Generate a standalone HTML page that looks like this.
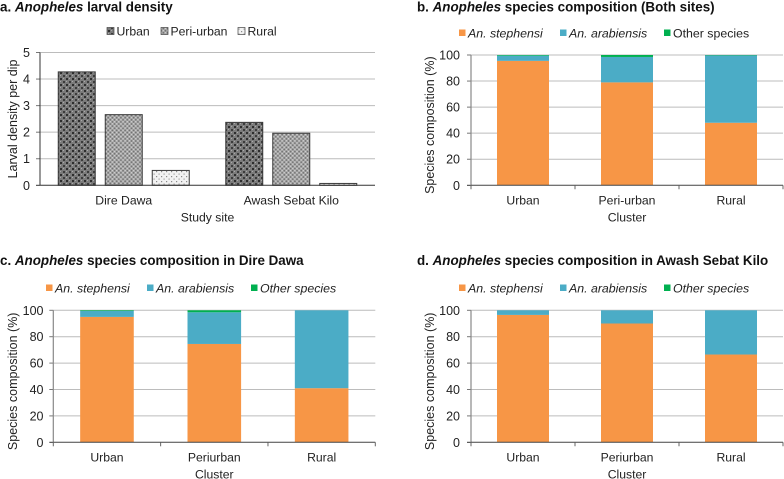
<!DOCTYPE html>
<html>
<head>
<meta charset="utf-8">
<style>
html,body{margin:0;padding:0;background:#fff;width:784px;height:479px;overflow:hidden}
svg{display:block;filter:blur(.3px)}
text{font-family:"Liberation Sans",sans-serif;fill:#222;font-size:12.2px}
.title{font-size:13.4px;font-weight:bold;fill:#111}
</style>
</head>
<body>
<svg id="figure" width="784" height="479" viewBox="0 0 784 479" xmlns="http://www.w3.org/2000/svg">
<defs>
<pattern id="pat-urban" width="6" height="6" patternUnits="userSpaceOnUse">
<rect width="6" height="6" fill="#7b7b7b"/>
<rect x="0" y="0" width="2" height="2" fill="#2e2e2e"/>
<rect x="3" y="3" width="2" height="2" fill="#3c3c3c"/>
<rect x="3" y="0" width="1" height="1" fill="#aaa"/>
<rect x="0" y="3" width="1" height="1" fill="#aaa"/>
</pattern>
<pattern id="pat-peri" width="3" height="3" patternUnits="userSpaceOnUse" patternTransform="rotate(45)">
<rect width="3" height="3" fill="#a6a6a6"/>
<rect x="0" y="0" width="1.4" height="1.4" fill="#6e6e6e"/>
<rect x="1.5" y="1.5" width="1.2" height="1.2" fill="#d6d6d6"/>
</pattern>
<pattern id="pat-rural" width="5" height="5" patternUnits="userSpaceOnUse">
<rect width="5" height="5" fill="#f2f2f2"/>
<rect x="1" y="1" width="1.2" height="1.2" fill="#8a8a8a"/>
<rect x="3.5" y="3.5" width="1.2" height="1.2" fill="#a0a0a0"/>
</pattern>
</defs>
</svg>
<script>
const NS = 'http://www.w3.org/2000/svg';
const svg = document.getElementById('figure');

// Panel a data
const densitySites = ['Dire Dawa', 'Awash Sebat Kilo'];
const densitySeriesNames = ['Urban', 'Peri-urban', 'Rural'];
const densityUrban = [4.27, 2.37];
const densityPeriUrban = [2.66, 1.96];
const densityRural = [0.56, 0.07];
const densityTicks = [0, 1, 2, 3, 4, 5];

// Composition shared
const compositionSpecies = ['An. stephensi', 'An. arabiensis', 'Other species'];
const compositionTicks = [0, 20, 40, 60, 80, 100];
const clustersBoth = ['Urban', 'Peri-urban', 'Rural'];
const clustersSite = ['Urban', 'Periurban', 'Rural'];

// Panel b data
const bothStephensi = [95.5, 79, 48];
const bothArabiensis = [4, 19.5, 51.7];
const bothOther = [0.5, 1.5, 0.3];

// Panel c data
const direStephensi = [95, 74.5, 41];
const direArabiensis = [4.5, 24, 59];
const direOther = [0.5, 1.5, 0];

// Panel d data
const awashStephensi = [96.5, 90, 66.5];
const awashArabiensis = [3.5, 10, 33.5];
const awashOther = [0, 0, 0];

function el(tag, attrs, parent, text) {
  const n = document.createElementNS(NS, tag);
  for (const k in attrs) n.setAttribute(k, attrs[k]);
  if (text !== undefined) n.textContent = text;
  (parent || svg).appendChild(n);
  return n;
}
function slug(s) {
  return String(s).toLowerCase().replace(/[^a-z0-9]+/g, '-');
}
function titleText(prefix, italic, rest, x, y) {
  const t = el('text', {x: x, y: y, class: 'title'});
  el('tspan', {}, t, prefix + ' ');
  el('tspan', {'font-style': 'italic'}, t, italic);
  el('tspan', {}, t, ' ' + rest);
  
  
  return t;
}
function axes(g, cfg, ticks, maxV, yScale) {
  ticks.forEach(v => {
    const y = yScale(v);
    if (v !== 0) {
      const grid = el('line', {x1: cfg.x0, x2: cfg.x1, y1: y, y2: y, stroke: '#bcbcbc', 'stroke-width': 1}, g);
      
      
    }
    const tick = el('line', {x1: cfg.x0 - 4, x2: cfg.x0, y1: y, y2: y, stroke: v === 0 ? '#333' : '#777', 'stroke-width': 1}, g);
    
    
    const lab = el('text', {x: cfg.tickEnd, y: y + 4.5, 'text-anchor': 'end', style: 'font-size:12.5px'}, g, v);
    
    
  });
}
function yTitle(g, text, x, y) {
  const t = el('text', {x: x, y: y, 'text-anchor': 'middle', style: 'font-size:12.5px', transform: 'rotate(-90 ' + x + ' ' + y + ')'}, g, text);
  
  
}
function xTitle(g, text, x, y) {
  const t = el('text', {x: x, y: y, 'text-anchor': 'middle'}, g, text);
  
  
}

/* ---------- Panel a ---------- */
(function () {
  const cfg = {x0: 40, x1: 375, yTop: 52.5, yBase: 185.3, tickEnd: 30};
  const g = el('g', {});
  
  
  titleText('a.', 'Anopheles', 'larval density', 0, 11.5);
  const maxV = densityTicks[densityTicks.length - 1];
  const yScale = v => cfg.yBase - (v / maxV) * (cfg.yBase - cfg.yTop);
  const catW = (cfg.x1 - cfg.x0) / densitySites.length;
  const catX = i => cfg.x0 + catW * (i + 0.5);
  axes(g, cfg, densityTicks, maxV, yScale);
  const series = [densityUrban, densityPeriUrban, densityRural];
  const fills = ['url(#pat-urban)', 'url(#pat-peri)', 'url(#pat-rural)'];
  const barW = 37, step = 47;
  series.forEach((vals, s) => {
    vals.forEach((v, i) => {
      const x = catX(i) + (s - 1) * step - barW / 2;
      const r = el('rect', {x: x, y: yScale(v), width: barW, height: yScale(0) - yScale(v), fill: fills[s], stroke: '#3a3a3a', 'stroke-width': 1}, g);
      
      
    });
  });
  const yAxis = el('line', {x1: cfg.x0, x2: cfg.x0, y1: cfg.yTop, y2: cfg.yBase, stroke: '#333', 'stroke-width': 1}, g);
  
  
  const xAxis = el('line', {x1: cfg.x0, x2: cfg.x1, y1: cfg.yBase, y2: cfg.yBase, stroke: '#333', 'stroke-width': 1}, g);
  
  
  densitySites.forEach((c, i) => {
    const t = el('text', {x: catX(i), y: 204.5, 'text-anchor': 'middle'}, g, c);
    
    
  });
  xTitle(g, 'Study site', 207.5, 221.5);
  yTitle(g, 'Larval density per dip', 17, 119);
  const legendX = [107, 161, 238];
  densitySeriesNames.forEach((n, s) => {
    const lg = el('g', {}, g);
    
    
    el('rect', {x: legendX[s], y: 27.5, width: 7, height: 7, fill: fills[s], stroke: '#444', 'stroke-width': .7}, lg);
    el('text', {x: legendX[s] + 9.5, y: 35.5}, lg, n);
  });
})();

/* ---------- Stacked panels ---------- */
function stacked(cfg, clusters, stephensi, arabiensis, other) {
  const g = el('g', {});
  
  
  titleText(cfg.letter, 'Anopheles', cfg.rest, cfg.titleX, cfg.titleY);
  const maxV = compositionTicks[compositionTicks.length - 1];
  const yScale = v => cfg.yBase - (v / maxV) * (cfg.yBase - cfg.yTop);
  const catW = (cfg.x1 - cfg.x0) / clusters.length;
  const catX = i => cfg.x0 + catW * (i + 0.5);
  axes(g, cfg, compositionTicks, maxV, yScale);
  const series = [stephensi, arabiensis, other];
  const colors = ['#f79646', '#4bacc6', '#00b050'];
  clusters.forEach((c, i) => {
    let acc = 0;
    series.forEach((vals, s) => {
      const v = vals[i];
      const top = yScale(acc + v), bot = yScale(acc);
      const r = el('rect', {x: catX(i) - cfg.barW / 2, y: top, width: cfg.barW, height: bot - top, fill: colors[s]}, g);
      
      
      acc += v;
    });
  });
  const yAxis = el('line', {x1: cfg.x0, x2: cfg.x0, y1: cfg.yTop, y2: cfg.yBase, stroke: '#888', 'stroke-width': 1.2}, g);
  
  
  const xAxis = el('line', {x1: cfg.x0, x2: cfg.x1, y1: cfg.yBase, y2: cfg.yBase, stroke: '#444', 'stroke-width': 1}, g);
  
  
  for (let i = 0; i <= clusters.length; i++) {
    const tx = cfg.x0 + catW * i;
    const tk = el('line', {x1: tx, x2: tx, y1: cfg.yBase, y2: cfg.yBase + 4, stroke: '#666', 'stroke-width': 1}, g);
    
    
  }
  clusters.forEach((c, i) => {
    const t = el('text', {x: catX(i), y: cfg.yBase + 19, 'text-anchor': 'middle'}, g, c);
    
    
  });
  xTitle(g, 'Cluster', (cfg.x0 + cfg.x1) / 2, cfg.yBase + 36);
  yTitle(g, 'Species composition (%)', cfg.yTitleX, (cfg.yTop + cfg.yBase) / 2 + 5);
  compositionSpecies.forEach((n, s) => {
    const lg = el('g', {}, g);
    
    
    el('rect', {x: cfg.legendX[s], y: cfg.legendY - 3.5, width: 6.5, height: 6.5, fill: colors[s]}, lg);
    const italic = s < 2 || cfg.otherItalic;
    const t = el('text', {x: cfg.legendX[s] + 9, y: cfg.legendY + 4.5, style: 'font-size:12.35px'}, lg, n);
    if (italic) t.setAttribute('font-style', 'italic');
  });
}

stacked({name: 'species-composition-both-sites-chart', letter: 'b.', rest: 'species composition (Both sites)', titleX: 417, titleY: 11.5,
  x0: 471, x1: 783, yTop: 55, yBase: 185.3, tickEnd: 460, barW: 52, yTitleX: 434,
  legendX: [459, 560, 664], legendY: 33, otherItalic: false},
  clustersBoth, bothStephensi, bothArabiensis, bothOther);

stacked({name: 'species-composition-dire-dawa-chart', letter: 'c.', rest: 'species composition in Dire Dawa', titleX: 0, titleY: 265,
  x0: 53.3, x1: 375.3, yTop: 310.3, yBase: 442.3, tickEnd: 43.5, barW: 53.6, yTitleX: 17,
  legendX: [46, 147, 251], legendY: 288, otherItalic: true},
  clustersSite, direStephensi, direArabiensis, direOther);

stacked({name: 'species-composition-awash-sebat-kilo-chart', letter: 'd.', rest: 'species composition in Awash Sebat Kilo', titleX: 417, titleY: 265,
  x0: 471, x1: 783, yTop: 310.3, yBase: 442.3, tickEnd: 460, barW: 52, yTitleX: 434,
  legendX: [459, 560, 664], legendY: 288, otherItalic: true},
  clustersSite, awashStephensi, awashArabiensis, awashOther);
</script>
</body>
</html>
